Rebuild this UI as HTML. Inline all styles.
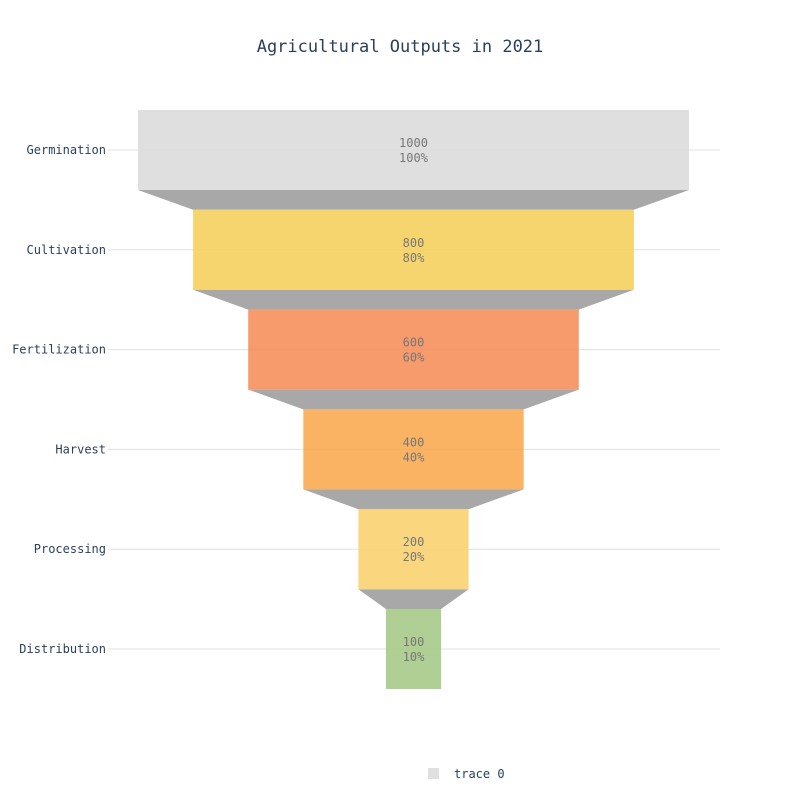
<!DOCTYPE html>
<html><head><meta charset="utf-8"><style>
body{margin:0;background:#fff;}
svg{display:block;font-family:"DejaVu Sans Mono","Liberation Mono",monospace;}
</style></head><body>
<svg id="chart" width="800" height="800">
<text x="400" y="52" text-anchor="middle" font-size="17" fill="#2a3f5f">Agricultural Outputs in 2021</text>
<g id="grid"></g><g id="conn"></g><g id="bars"></g><g id="labels"></g>
<g>
<rect x="428" y="768" width="11" height="11" fill="#e0e0e0"/>
<text x="454" y="778" font-size="12" fill="#2a3f5f">trace 0</text>
</g>
</svg>
<script>
const categories=["Germination","Cultivation","Fertilization","Harvest","Processing","Distribution"];
const values=[1000,800,600,400,200,100];
const colors=["#dcdcdc","#f5d05e","#f68f5c","#f8ab52","#fad370","#a6ca88"];
const ns="http://www.w3.org/2000/svg";
const cx=413.5, scale=551/1000, y0=150, step=99.8, barH=80;
const x=v=>cx-v*scale/2, w=v=>v*scale, y=i=>y0+i*step;
function mk(t,a,p){const e=document.createElementNS(ns,t);for(const k in a)e.setAttribute(k,a[k]);document.getElementById(p).appendChild(e);return e;}
categories.forEach((c,i)=>{
 const g=mk("line",{x1:108,x2:720,y1:y(i),y2:y(i),stroke:"#e0e0e0","stroke-width":1},"grid");
 
 
 const t=mk("text",{x:106,y:y(i)+4,"text-anchor":"end","font-size":12,fill:"#2a3f5f"},"labels");
 t.textContent=c;
 
 
 const v=values[i];
 const r=mk("rect",{x:x(v),y:y(i)-barH/2,width:w(v),height:barH,fill:colors[i],"fill-opacity":0.9},"bars");
 
 
 if(i<categories.length-1){
  const n=values[i+1];
  const p=mk("polygon",{points:`${x(v)},${y(i)+barH/2} ${x(v)+w(v)},${y(i)+barH/2} ${x(n)+w(n)},${y(i+1)-barH/2} ${x(n)},${y(i+1)-barH/2}`,fill:"#a8a8a8"},"conn");
  
  
 }
 const t1=mk("text",{x:cx,y:y(i)-3,"text-anchor":"middle","font-size":12,fill:"#777"},"labels");
 t1.textContent=v;
 
 
 const t2=mk("text",{x:cx,y:y(i)+12,"text-anchor":"middle","font-size":12,fill:"#777"},"labels");
 t2.textContent=Math.round(v/values[0]*100)+"%";
 
 
});
</script>
</body></html>
